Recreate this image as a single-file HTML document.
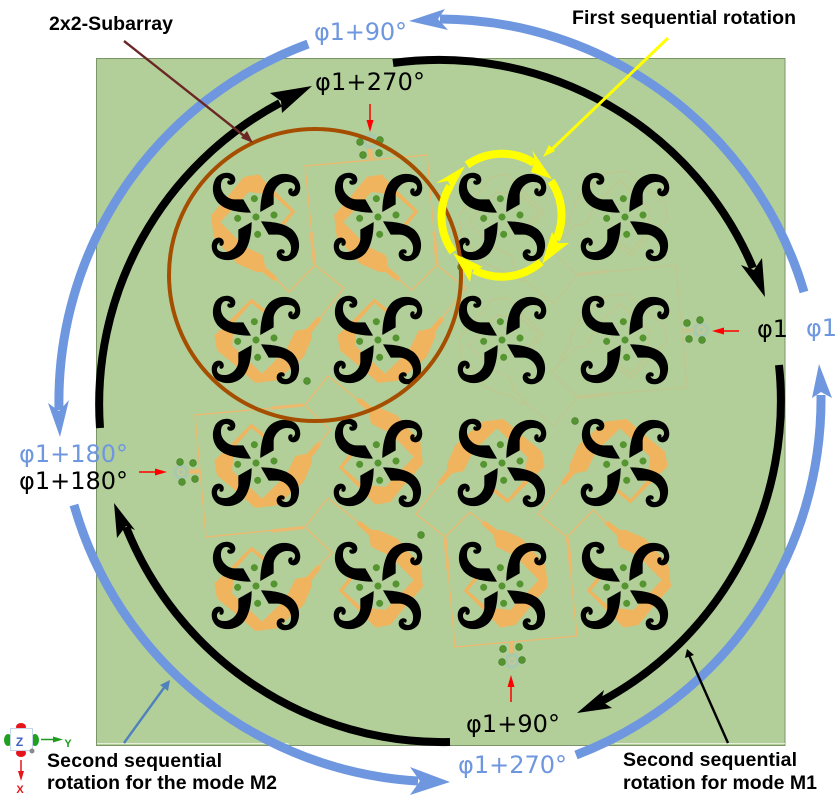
<!DOCTYPE html>
<html><head><meta charset="utf-8"><style>
html,body{margin:0;padding:0;background:#fff}
svg{display:block}
.o{--pf:#f0b45e;--ps:none;--l:#ecb96f;--t:#ecb96f}
.f{--pf:none;--ps:#bfc68f;--l:#bfc68f;--t:#c2c78f}
.d text{font-family:"DejaVu Sans",sans-serif}
.b text{font-family:"Liberation Sans",Arial,sans-serif;font-weight:bold;font-size:19.5px;fill:#000}
</style></head><body>
<svg xmlns="http://www.w3.org/2000/svg" width="840" height="801" viewBox="0 0 840 801">
<defs>
<path id="arm" fill="#000" d="M128,135 C100,135 60,130 38,113 C14,95 6,60 22,32 C35,14 62,10 75,22 C85,32 82,48 70,51 C60,53 54,46 58,40 C60,37 65,38 66,41 C67,36 60,30 52,31 C42,32 37,42 38,58 C40,78 60,95 78,95 L105,95 Z"/>
<g id="el" transform="scale(.33333) translate(-143,-148)">
<use href="#arm"/>
<use href="#arm" transform="rotate(90 143 148)"/>
<use href="#arm" transform="rotate(180 143 148)"/>
<use href="#arm" transform="rotate(270 143 148)"/>
<g fill="#54952f" stroke="#4a8a2c" stroke-width="1">
<circle cx="143" cy="148" r="10"/><circle cx="138" cy="93" r="10"/><circle cx="197" cy="142" r="10"/><circle cx="148" cy="200" r="10"/><circle cx="88" cy="152" r="10"/>
</g>
</g>
<polygon id="p" transform="scale(.33333) translate(-167,-172)" style="fill:var(--pf);stroke:var(--ps);stroke-width:4" points="130,55 175,47 198,72 285,158 240,215 232,207 272,158 215,108 145,100 60,190 130,262 188,290 195,325 232,358 222,368 185,340 168,340 110,315 40,235 32,170 85,110"/>
<g id="S">
<use href="#p" transform="translate(256,463) rotate(-90)"/>
<use href="#p" transform="translate(378,463) rotate(180)"/>
<use href="#p" transform="translate(256,586) rotate(-90)"/>
<use href="#p" transform="translate(378,586) rotate(180)"/>
<g fill="none" style="stroke:var(--l)" stroke-width="1.3">
<path d="M305,405 L195,415 L206,537 L305,527"/>
<path d="M318,445 L330,430 L305,405 L328,376 L358,400"/>
<path d="M318,567 L332,553 L305,527 L328,498 L358,522"/>
</g>
<g fill="none" style="stroke:var(--t)" stroke-width="3.2">
<path d="M272,531 L304,527.5"/><path d="M272,408 L304,405"/>
<path d="M188,472 L200,471" stroke-width="4.5"/>
</g>
<circle cx="181" cy="472" r="8" fill="#a4c8b0" opacity=".75"/>
<circle cx="181" cy="472" r="3.2" fill="none" stroke="#c9c98f" stroke-width="1.6"/>
<g fill="#54952f" stroke="#427a28" stroke-width=".6">
<circle cx="180" cy="462" r="3.4"/><circle cx="193" cy="463" r="3.4"/><circle cx="182" cy="482" r="3.4"/><circle cx="195" cy="479" r="3.4"/><circle cx="307" cy="381" r="3.4"/>
</g>
</g>
</defs>

<rect x="96.5" y="58.5" width="688.5" height="687" fill="#b3cf99" stroke="#7b9468" stroke-width="1"/>
<path d="M97,743.5 H288 V746 M615,743.5 H785" fill="none" stroke="#e4eedb" stroke-width="1"/>

<g class="o"><use href="#S"/></g>
<g class="o"><use href="#S" transform="rotate(-90 441 401)"/></g>
<g class="o"><use href="#S" transform="rotate(90 441 401)"/></g>
<g class="f"><use href="#S" transform="rotate(180 441 401)"/></g>

<use href="#el" x="256" y="217"/><use href="#el" x="378" y="217"/><use href="#el" x="502" y="217"/><use href="#el" x="625" y="217"/>
<use href="#el" x="256" y="340"/><use href="#el" x="378" y="340"/><use href="#el" x="502" y="340"/><use href="#el" x="625" y="340"/>
<use href="#el" x="256" y="463"/><use href="#el" x="378" y="463"/><use href="#el" x="502" y="463"/><use href="#el" x="625" y="463"/>
<use href="#el" x="256" y="586"/><use href="#el" x="378" y="586"/><use href="#el" x="502" y="586"/><use href="#el" x="625" y="586"/>

<!-- blue arcs -->
<g fill="none" stroke="#6f97df" stroke-width="9">
<path d="M804,292 A381,381 0 0 0 440,19"/>
<path d="M308,44 A381,381 0 0 0 59,410"/>
<path d="M74,505 A381,381 0 0 0 418,781"/>
<path d="M576,755 A381,381 0 0 0 821,395"/>
</g>
<g fill="#6f97df">
<polygon points="409,21 445,9 438,19 448,30"/>
<polygon points="60,437 48,403 59,411 69,400"/>
<polygon points="450,782 410,767 420,781 410,795"/>
<polygon points="819,364 812,398 821,392 832,398"/>
</g>

<!-- black arcs -->
<g fill="none" stroke="#000" stroke-width="8">
<path d="M393,63 A341,341 0 0 1 753,268"/>
<path d="M779,365 A341,341 0 0 1 600,702"/>
<path d="M450,742 A341,341 0 0 1 126,527"/>
<path d="M100,428 A341,341 0 0 1 280,103"/>
</g>
<g fill="#000">
<polygon points="765,297 741,265 754,270 762,258"/>
<polygon points="577,713 604,690 601,701 612,708"/>
<polygon points="114,503 117,538 126,526 135,530"/>
<polygon points="312,86 270,93 281,101 282,113"/>
</g>

<circle cx="315" cy="275" r="146" fill="none" stroke="#a54e00" stroke-width="4"/>

<!-- yellow rotation -->
<g fill="none" stroke="#ffff00" stroke-width="8">
<path d="M467,165 A60,60 0 0 1 534,163"/>
<path d="M551,181 A60,60 0 0 1 556,240"/>
<path d="M541,262 A60,60 0 0 1 474,270"/>
<path d="M453,252 A60,60 0 0 1 450,186"/>
</g>
<g fill="#ffff00">
<polygon points="552,179 532,150 535,160 531,172"/>
<polygon points="542,264 569,243 558,243 552,232"/>
<polygon points="453,253 470,282 472,270 483,267"/>
<polygon points="465,166 436,183 448,181 452,190"/>
</g>

<!-- pointers -->
<g fill="none" stroke-width="2.4">
<line x1="124" y1="41" x2="248" y2="139" stroke="#6b2626"/>
<line x1="668" y1="38" x2="548" y2="153" stroke="#ffff00" stroke-width="3"/>
<line x1="728" y1="743" x2="689" y2="655" stroke="#000"/>
<line x1="124" y1="743" x2="166" y2="685" stroke="#4f81bd"/>
</g>
<polygon points="253,143 241,138 247,131" fill="#6b2626"/>
<polygon points="543,157 549,145 555,151" fill="#ffff00"/>
<polygon points="687,649 694,655 685,658" fill="#000"/>
<polygon points="170,680 168,691 160,685" fill="#4f81bd"/>
<g stroke="#ff0000" stroke-width="1.5" fill="#ff0000">
<line x1="370" y1="104" x2="370" y2="125"/><polygon points="370,132 366.5,120 373.5,120" stroke="none"/>
<line x1="739" y1="331" x2="720" y2="331"/><polygon points="712,331 724,327.5 724,334.5" stroke="none"/>
<line x1="139" y1="472" x2="158" y2="472"/><polygon points="167,472 155,468.5 155,475.5" stroke="none"/>
<line x1="511" y1="702" x2="511" y2="683"/><polygon points="511,675 507.5,687 514.5,687" stroke="none"/>
</g>

<!-- labels -->
<g class="d" font-size="24">
<text x="314" y="40" fill="#6f97df" textLength="93">φ1+90°</text>
<text x="315" y="90" fill="#000" textLength="110">φ1+270°</text>
<text x="757" y="337" fill="#000" textLength="31">φ1</text>
<text x="806" y="336" fill="#6f97df" textLength="31">φ1</text>
<text x="19" y="462" fill="#6f97df" textLength="109">φ1+180°</text>
<text x="19" y="489" fill="#000" textLength="109">φ1+180°</text>
<text x="466" y="732" fill="#000" textLength="94">φ1+90°</text>
<text x="458" y="773" fill="#6f97df" textLength="109">φ1+270°</text>
</g>
<g class="b">
<text x="49" y="30" textLength="124">2x2-Subarray</text>
<text x="572" y="24" textLength="224">First sequential rotation</text>
<text x="47" y="767" textLength="175">Second sequential</text>
<text x="47" y="789" textLength="230">rotation for the mode M2</text>
<text x="623" y="766" textLength="174">Second sequential</text>
<text x="623" y="789" textLength="194">rotation for mode M1</text>
</g>

<!-- axis triad -->
<ellipse cx="21" cy="727" rx="5" ry="4" fill="#e8141c"/>
<ellipse cx="21" cy="753" rx="5" ry="4" fill="#e8141c"/>
<ellipse cx="8" cy="740" rx="4" ry="6" fill="#1fa01f"/>
<ellipse cx="35" cy="740" rx="4" ry="6" fill="#1fa01f"/>
<rect x="10.5" y="728.5" width="22" height="22" fill="#fff" stroke="#c5d4ea" stroke-width="1"/>
<circle cx="32" cy="751" r="2.5" fill="#8a8a8a"/>
<text x="19.5" y="746" font-family="Liberation Sans,sans-serif" font-weight="bold" font-size="12" fill="#3d62c4" text-anchor="middle">Z</text>
<line x1="41" y1="739.5" x2="57" y2="739.5" stroke="#1f9a1f" stroke-width="1.5"/>
<polygon points="63,739.5 53,736.5 53,742.5" fill="#1f9a1f"/>
<text x="68" y="747" font-family="Liberation Sans,sans-serif" font-weight="bold" font-size="11" fill="#1f9a1f" text-anchor="middle">Y</text>
<line x1="21" y1="760" x2="21" y2="775" stroke="#e8141c" stroke-width="1.5"/>
<polygon points="21,781 18,771 24,771" fill="#e8141c"/>
<text x="20" y="793" font-family="Liberation Sans,sans-serif" font-weight="bold" font-size="11" fill="#e8141c" text-anchor="middle">X</text>
</svg>
</body></html>
